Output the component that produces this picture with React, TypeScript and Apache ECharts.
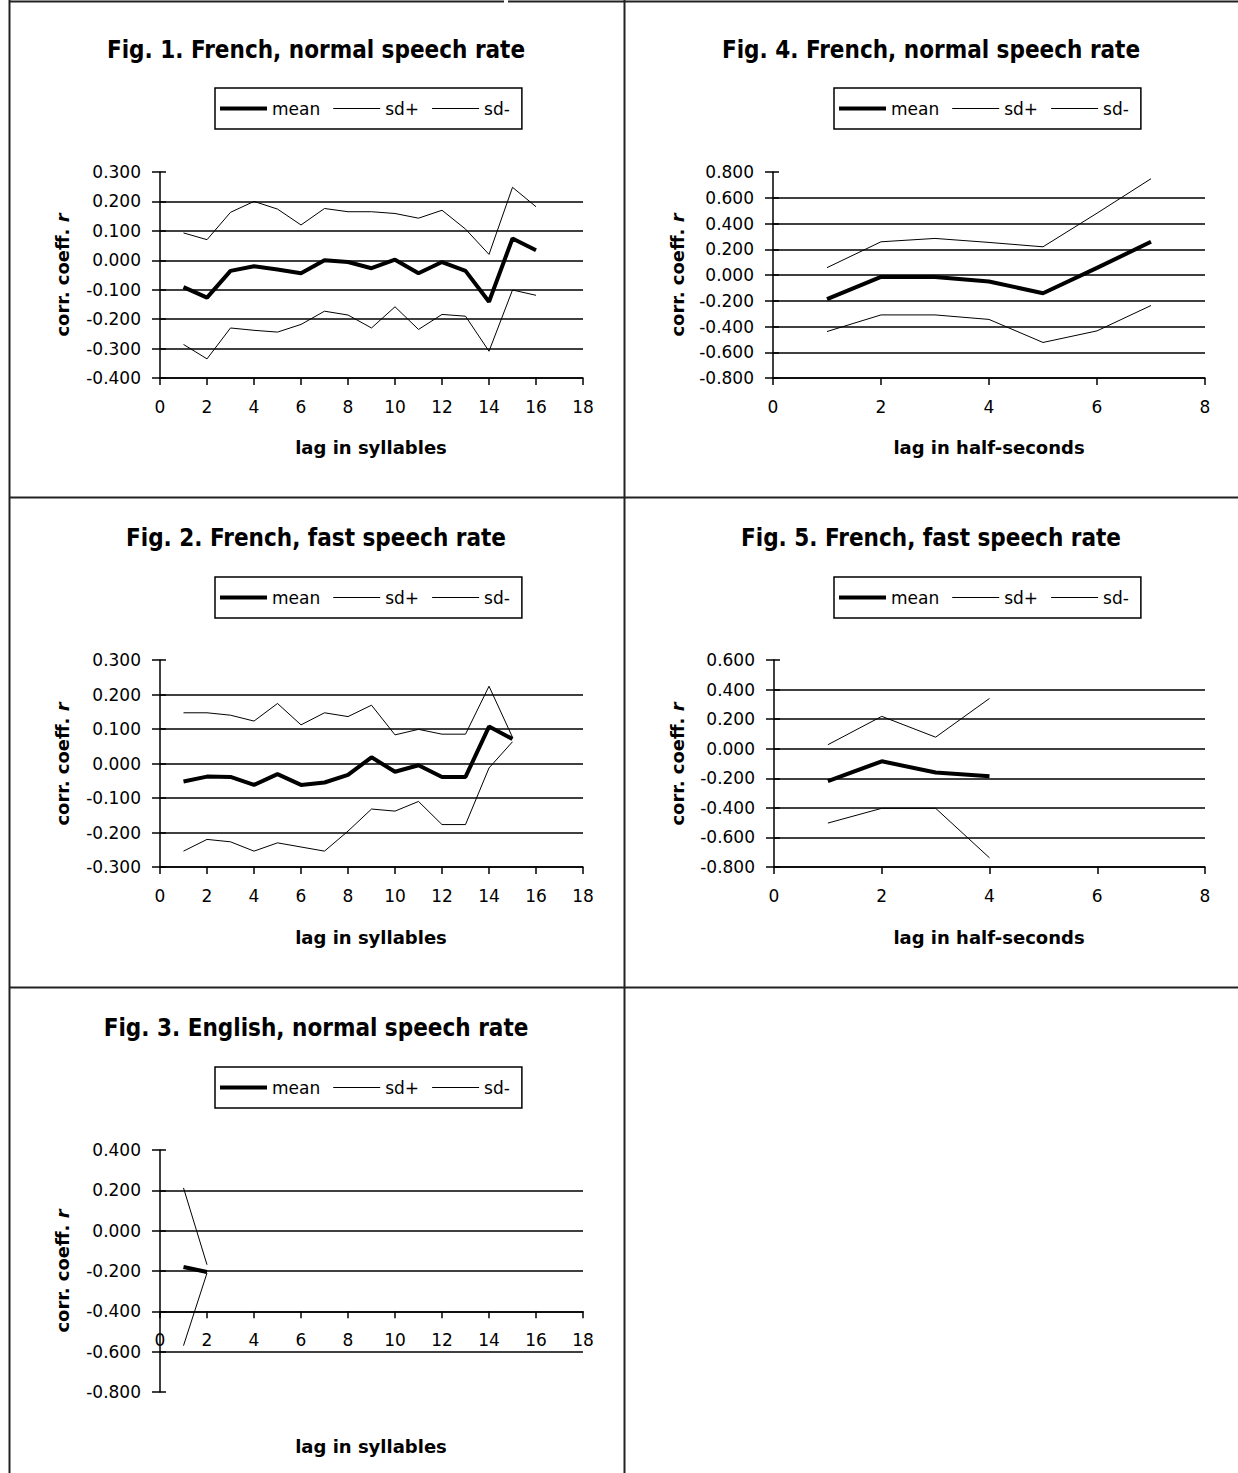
import React, { useEffect, useRef } from "react";
import * as echarts from "echarts";

const W = 1238;
const H = 1473;

// ---------- data ----------
const fig1Lags = [1, 2, 3, 4, 5, 6, 7, 8, 9, 10, 11, 12, 13, 14, 15, 16];
const fig1Mean = [-0.091, -0.127, -0.036, -0.02, -0.031, -0.044, 0.0, -0.006, -0.027, 0.002, -0.044, -0.006, -0.036, -0.141, 0.074, 0.034];
const fig1SdPlus = [0.093, 0.07, 0.163, 0.2, 0.174, 0.12, 0.176, 0.165, 0.165, 0.159, 0.143, 0.17, 0.106, 0.02, 0.248, 0.182];
const fig1SdMinus = [-0.286, -0.335, -0.23, -0.238, -0.244, -0.218, -0.173, -0.186, -0.23, -0.158, -0.235, -0.184, -0.19, -0.309, -0.101, -0.119];

const fig2Lags = [1, 2, 3, 4, 5, 6, 7, 8, 9, 10, 11, 12, 13, 14, 15];
const fig2Mean = [-0.052, -0.038, -0.039, -0.062, -0.031, -0.062, -0.055, -0.033, 0.018, -0.024, -0.005, -0.039, -0.039, 0.107, 0.071];
const fig2SdPlus = [0.147, 0.147, 0.14, 0.123, 0.174, 0.112, 0.147, 0.136, 0.169, 0.083, 0.099, 0.085, 0.085, 0.224, 0.076];
const fig2SdMinus = [-0.254, -0.22, -0.227, -0.254, -0.23, -0.242, -0.254, -0.196, -0.132, -0.138, -0.11, -0.177, -0.177, -0.013, 0.063];

const fig3Lags = [1, 2];
const fig3Mean = [-0.18, -0.205];
const fig3SdPlus = [0.212, -0.169];
const fig3SdMinus = [-0.57, -0.21];

const fig4Lags = [1, 2, 3, 4, 5, 6, 7];
const fig4Mean = [-0.188, -0.015, -0.015, -0.05, -0.142, 0.055, 0.258];
const fig4SdPlus = [0.057, 0.258, 0.284, 0.253, 0.219, 0.48, 0.748];
const fig4SdMinus = [-0.439, -0.31, -0.31, -0.345, -0.524, -0.434, -0.237];

const fig5Lags = [1, 2, 3, 4];
const fig5Mean = [-0.219, -0.085, -0.161, -0.186];
const fig5SdPlus = [0.027, 0.219, 0.078, 0.34];
const fig5SdMinus = [-0.503, -0.403, -0.403, -0.738];

const titles = [
  "Fig. 1. French, normal speech rate",
  "Fig. 2. French, fast speech rate",
  "Fig. 3. English, normal speech rate",
  "Fig. 4. French, normal speech rate",
  "Fig. 5. French, fast speech rate",
];
const xNames = ["lag in syllables", "lag in syllables", "lag in syllables", "lag in half-seconds", "lag in half-seconds"];
const seriesNames = ["mean", "sd+", "sd-"];
const xRanges = [
  [0, 18, 2],
  [0, 18, 2],
  [0, 18, 2],
  [0, 8, 2],
  [0, 8, 2],
];
const yRanges = [
  [-0.4, 0.3, 0.1],
  [-0.3, 0.3, 0.1],
  [-0.8, 0.4, 0.2],
  [-0.8, 0.8, 0.2],
  [-0.8, 0.6, 0.2],
];
// Fig. 3: the horizontal axis crosses the vertical one at this value
const fig3Crossing = -0.4;

const panelsData = [
  { lags: fig1Lags, mean: fig1Mean, plus: fig1SdPlus, minus: fig1SdMinus },
  { lags: fig2Lags, mean: fig2Mean, plus: fig2SdPlus, minus: fig2SdMinus },
  { lags: fig3Lags, mean: fig3Mean, plus: fig3SdPlus, minus: fig3SdMinus },
  { lags: fig4Lags, mean: fig4Mean, plus: fig4SdPlus, minus: fig4SdMinus },
  { lags: fig5Lags, mean: fig5Mean, plus: fig5SdPlus, minus: fig5SdMinus },
];

// ---------- layout ----------
const layouts = [
  { grid: { left: 160, top: 172, width: 423, height: 206 }, title: [316, 50], legend: [215, 88], xName: [371, 447], yName: [62, 275] },
  { grid: { left: 160, top: 660, width: 423, height: 207 }, title: [316, 538], legend: [215, 577], xName: [371, 937], yName: [62, 764] },
  { grid: { left: 160, top: 1150, width: 423, height: 242 }, title: [316, 1028], legend: [215, 1067], xName: [371, 1446], yName: [62, 1271] },
  { grid: { left: 773, top: 172, width: 432, height: 206 }, title: [931, 50], legend: [834, 88], xName: [989, 447], yName: [677, 275] },
  { grid: { left: 774, top: 660, width: 431, height: 207 }, title: [931, 538], legend: [834, 577], xName: [989, 937], yName: [677, 764] },
];
const FIG3 = 2;

const LABEL_FONT = "'DejaVu Sans', sans-serif";
const TITLE_FONT = "'Liberation Sans Narrow', 'Arial Narrow', 'DejaVu Sans Condensed', sans-serif";
const INK = "#000";
const BORDER = "#222";

function fmt(v: number) {
  if (Math.abs(v) < 1e-9) return "0.000";
  return v.toFixed(3);
}

const axisLineStyle = { color: INK, width: 1.5 };
const xLabel = { margin: 20, fontSize: 17, fontFamily: LABEL_FONT, color: INK };

function buildOption() {
  const grid: any[] = [];
  const xAxis: any[] = [];
  const yAxisMain: any[] = [];
  const yAxisDup: any[] = [];
  const series: any[] = [];
  const legend: any[] = [];
  const graphic: any[] = [];

  layouts.forEach((L, i) => {
    grid.push({ ...L.grid, containLabel: false });
    const [xmin, xmax, xint] = xRanges[i];
    const [ymin, ymax, yint] = yRanges[i];
    const isFig3 = i === FIG3;
    xAxis.push({
      gridIndex: i,
      type: "value",
      min: xmin,
      max: xmax,
      interval: xint,
      axisLine: { show: !isFig3, onZero: false, lineStyle: axisLineStyle },
      axisTick: { show: !isFig3, inside: false, length: 7, lineStyle: axisLineStyle },
      axisLabel: { ...xLabel, show: !isFig3 },
      splitLine: { show: false },
    });
    yAxisMain.push({
      gridIndex: i,
      type: "value",
      position: "left",
      min: ymin,
      max: ymax,
      interval: yint,
      axisLine: { show: true, onZero: false, lineStyle: axisLineStyle },
      axisTick: { show: true, inside: false, length: 8, lineStyle: axisLineStyle },
      axisLabel: { margin: 19, fontSize: 17, fontFamily: LABEL_FONT, color: INK, formatter: fmt },
      splitLine: {
        show: true,
        showMaxLine: false,
        showMinLine: !isFig3,
        lineStyle: { color: INK, width: 1.5 },
      },
    });
    yAxisDup.push({
      gridIndex: i,
      type: "value",
      position: "left",
      offset: 0,
      min: ymin,
      max: ymax,
      interval: yint,
      axisLine: { show: false, onZero: false },
      axisTick: { show: true, inside: true, length: 6, lineStyle: axisLineStyle },
      axisLabel: { show: false },
      splitLine: { show: false },
    });

    const d = panelsData[i];
    const arrs = [d.mean, d.plus, d.minus];
    arrs.forEach((arr, k) => {
      series.push({
        type: "line",
        name: seriesNames[k],
        xAxisIndex: i,
        yAxisIndex: i,
        data: d.lags.map((x, j) => [x, arr[j]]),
        symbol: "none",
        silent: true,
        z: k === 0 ? 4 : 3,
        lineStyle: { color: INK, width: k === 0 ? 4 : 1 },
        itemStyle: { color: INK },
      });
    });

    legend.push({
      left: L.legend[0],
      top: L.legend[1],
      orient: "horizontal",
      selectedMode: false,
      backgroundColor: "#fff",
      borderColor: INK,
      borderWidth: 1.5,
      borderRadius: 0,
      padding: [12, 12, 12, 5],
      itemGap: 13,
      itemWidth: 47,
      itemHeight: 4,
      itemStyle: { borderWidth: 0 },
      textStyle: { fontSize: 17, fontFamily: LABEL_FONT, color: INK },
      data: [
        { name: "mean", icon: "path://M0,0H47V4H0Z" },
        { name: "sd+", icon: "path://M0,0H47V1H0Z" },
        { name: "sd-", icon: "path://M0,0H47V1H0Z" },
      ],
    });

    graphic.push({
      type: "text",
      x: L.title[0],
      y: L.title[1],
      silent: true,
      style: {
        text: titles[i],
        align: "center",
        verticalAlign: "middle",
        fontFamily: TITLE_FONT,
        fontWeight: "bold",
        fontSize: 24,
        fill: INK,
      },
    });
    graphic.push({
      type: "text",
      x: L.xName[0],
      y: L.xName[1],
      silent: true,
      style: {
        text: xNames[i],
        align: "center",
        verticalAlign: "middle",
        fontFamily: LABEL_FONT,
        fontWeight: "bold",
        fontSize: 18,
        fill: INK,
      },
    });
    graphic.push({
      type: "text",
      x: L.yName[0],
      y: L.yName[1],
      rotation: Math.PI / 2,
      silent: true,
      style: {
        text: "{a|corr. coeff. }{b|r}",
        align: "center",
        verticalAlign: "middle",
        fill: INK,
        rich: {
          a: { fontFamily: LABEL_FONT, fontWeight: "bold", fontSize: 18, fill: INK },
          b: { fontFamily: LABEL_FONT, fontWeight: "bold", fontStyle: "italic", fontSize: 18, fill: INK },
        },
      },
    });
  });

  // Fig. 3: an overlay grid whose bottom edge sits at the crossing value,
  // carrying the visible horizontal axis (line, ticks, labels).
  const g3 = layouts[FIG3].grid;
  const [y3min, y3max] = yRanges[FIG3];
  const overlayHeight = (g3.height * (y3max - fig3Crossing)) / (y3max - y3min);
  grid.push({ left: g3.left, top: g3.top, width: g3.width, height: overlayHeight, containLabel: false });
  const overlayGridIndex = grid.length - 1;
  xAxis.push({
    gridIndex: overlayGridIndex,
    type: "value",
    min: xRanges[FIG3][0],
    max: xRanges[FIG3][1],
    interval: xRanges[FIG3][2],
    axisLine: { show: true, onZero: false, lineStyle: axisLineStyle },
    axisTick: { show: true, inside: false, length: 7, lineStyle: axisLineStyle },
    axisLabel: xLabel,
    splitLine: { show: false },
  });
  const overlayY = {
    gridIndex: overlayGridIndex,
    type: "value",
    min: fig3Crossing,
    max: y3max,
    show: false,
  };

  const lineStyle = { stroke: BORDER, lineWidth: 2 };
  const borders = [
    [9, 1.5, 504, 1.5],
    [508, 1.5, W, 1.5],
    [9.5, 0, 9.5, H],
    [624.5, 0, 624.5, H],
    [9, 497.5, W, 497.5],
    [9, 987.5, W, 987.5],
  ];
  borders.forEach(([x1, y1, x2, y2]) => {
    graphic.push({ type: "line", silent: true, shape: { x1, y1, x2, y2 }, style: lineStyle });
  });

  return {
    animation: false,
    backgroundColor: "#fff",
    grid,
    xAxis,
    yAxis: [...yAxisMain, ...yAxisDup, overlayY],
    legend,
    series,
    graphic: { elements: graphic },
  };
}

export default function App() {
  const ref = useRef<HTMLDivElement>(null);
  useEffect(() => {
    if (!ref.current) return;
    const chart = echarts.init(ref.current, undefined, { renderer: "svg", width: W, height: H });
    chart.setOption(buildOption() as any);
    return () => chart.dispose();
  }, []);
  return <div ref={ref} style={{ position: "absolute", left: 0, top: 0, width: W, height: H, background: "#fff" }} />;
}
